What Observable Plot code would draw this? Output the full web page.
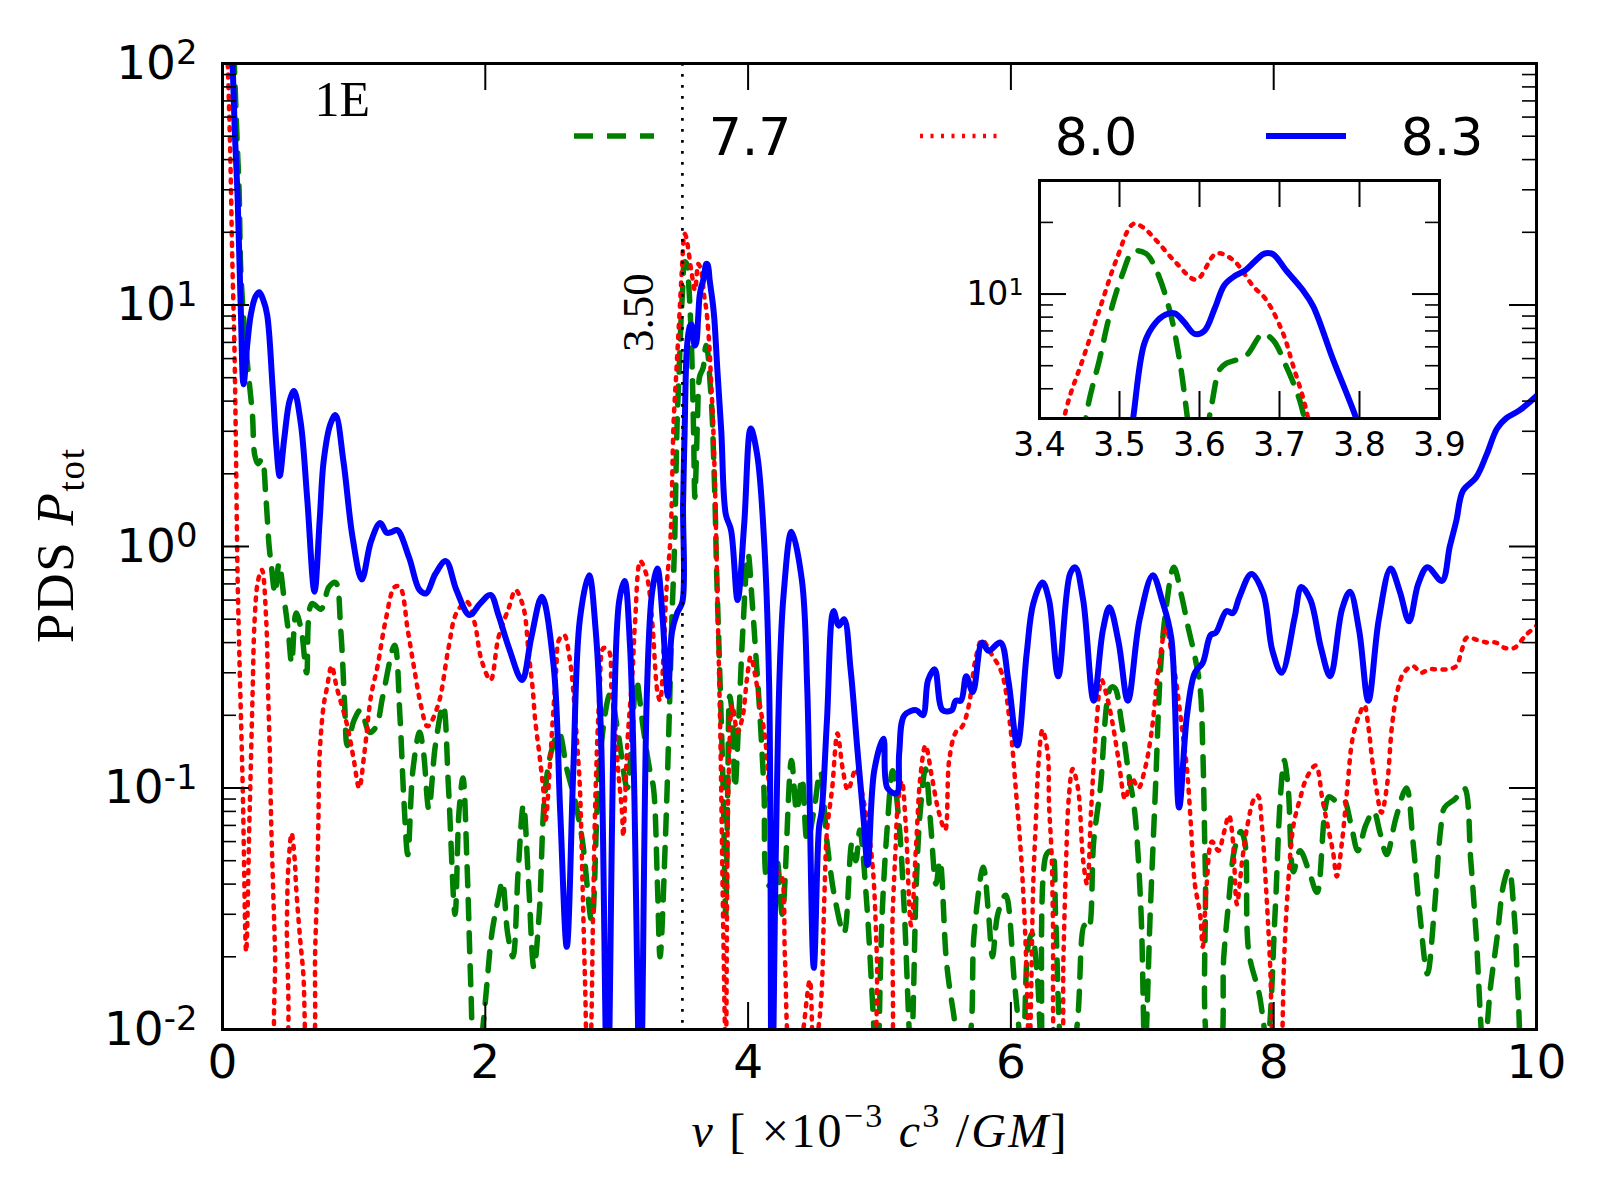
<!DOCTYPE html>
<html><head><meta charset="utf-8">
<script src="https://cdn.jsdelivr.net/npm/d3@7"></script>
<script src="https://cdn.jsdelivr.net/npm/@observablehq/plot@0.6"></script>
<style>
html,body{margin:0;padding:0;background:#fff;overflow:hidden;}
#wrap{position:relative;width:1600px;height:1200px;}
#wrap svg{max-width:none;}
.inset{position:absolute;left:947px;top:170px;}
</style></head><body><div id="wrap"></div>
<script>
// ---------- data ----------
const seriesLabels = ["7.7", "8.0", "8.3"];

const greenNu = [0.08,0.09,0.11,0.127,0.139,0.17,0.20,0.228,0.245,0.27,0.30,0.33,0.355,0.37,0.40,0.43,0.47,0.50,0.526,0.56,0.60,0.64,0.68,0.75,0.81,0.86,0.90,0.93,0.95,1.00,1.05,1.12,1.17,1.22,1.31,1.35,1.38,1.41,1.45,1.50,1.53,1.57,1.62,1.68,1.72,1.77,1.80,1.83,1.86,1.89,1.92,1.96,2.00,2.05,2.10,2.13,2.17,2.21,2.25,2.29,2.33,2.37,2.41,2.45,2.50,2.56,2.62,2.68,2.74,2.81,2.85,2.88,2.95,3.01,3.08,3.12,3.15,3.20,3.25,3.28,3.31,3.33,3.37,3.40,3.42,3.44,3.46,3.475,3.4875,3.504,3.517,3.533,3.546,3.5625,3.575,3.585,3.595,3.605,3.615,3.625,3.633,3.658,3.679,3.692,3.708,3.725,3.735,3.75,3.76,3.78,3.81,3.83,3.845,3.86,3.88,3.90,3.93,3.96,4.00,4.03,4.06,4.09,4.12,4.15,4.18,4.22,4.26,4.33,4.37,4.41,4.45,4.50,4.55,4.60,4.66,4.73,4.79,4.82,4.85,4.90,4.95,4.98,5.02,5.06,5.10,5.15,5.19,5.24,5.28,5.31,5.35,5.39,5.43,5.46,5.51,5.56,5.62,5.68,5.72,5.79,5.83,5.86,5.90,5.96,6.03,6.09,6.13,6.16,6.20,6.23,6.27,6.31,6.34,6.37,6.41,6.50,6.56,6.59,6.63,6.68,6.76,6.79,6.84,6.90,6.94,6.99,7.02,7.06,7.10,7.14,7.18,7.24,7.30,7.35,7.40,7.44,7.46,7.48,7.52,7.58,7.62,7.66,7.70,7.75,7.78,7.81,7.89,7.95,8.01,8.05,8.08,8.11,8.15,8.20,8.27,8.33,8.42,8.48,8.53,8.59,8.64,8.70,8.76,8.81,8.86,8.93,9.01,9.06,9.11,9.17,9.22,9.27,9.30,9.38,9.45,9.50,9.54,9.60,9.65,9.70,9.75,9.79,9.83,9.86,9.90,9.95,10.0];
const greenPds = [150,100,50,29,14,7.5,5,3.5,2.4,2.2,2.3,1.6,1.0,0.85,0.64,0.85,0.6,0.45,0.33,0.53,0.45,0.30,0.58,0.55,0.68,0.71,0.45,0.22,0.15,0.19,0.21,0.17,0.18,0.24,0.39,0.2,0.09,0.053,0.12,0.17,0.14,0.082,0.15,0.22,0.1,0.03,0.08,0.11,0.05,0.015,0.006,0.008,0.013,0.025,0.035,0.041,0.025,0.02,0.045,0.085,0.04,0.018,0.03,0.09,0.14,0.17,0.12,0.09,0.06,0.028,0.08,0.148,0.245,0.17,0.10,0.18,0.28,0.18,0.12,0.1,0.04,0.02,0.06,0.2,0.5,1.0,3.3,5.3,8.1,12.2,15.1,14.8,12.6,8.6,5.3,3.0,1.6,2.2,3.4,4.8,5.1,5.5,6.8,6.4,5.0,3.6,2.6,1.4,0.8,0.36,0.10,0.03,0.1,0.24,0.2,0.1,0.2,0.45,0.93,0.6,0.35,0.2,0.1,0.04,0.039,0.05,0.03,0.13,0.08,0.11,0.06,0.08,0.117,0.06,0.035,0.025,0.059,0.05,0.067,0.035,0.012,0.006,0.03,0.07,0.118,0.07,0.03,0.008,0.04,0.08,0.12,0.07,0.04,0.05,0.019,0.012,0.008,0.009,0.025,0.047,0.03,0.02,0.03,0.036,0.015,0.008,0.022,0.025,0.017,0.009,0.053,0.055,0.03,0.01,0.006,0.01,0.027,0.026,0.06,0.099,0.26,0.26,0.19,0.111,0.082,0.031,0.008,0.03,0.099,0.32,0.55,0.82,0.62,0.46,0.35,0.26,0.147,0.045,0.008,0.008,0.02,0.035,0.055,0.066,0.06,0.021,0.014,0.009,0.03,0.09,0.13,0.1,0.045,0.055,0.045,0.037,0.092,0.088,0.09,0.07,0.055,0.07,0.08,0.065,0.053,0.075,0.1,0.06,0.031,0.017,0.03,0.067,0.083,0.09,0.1,0.05,0.025,0.008,0.015,0.024,0.04,0.046,0.03,0.014,0.006,0.005,0.005];

const redNu = [0.02,0.04,0.06,0.075,0.09,0.10,0.114,0.128,0.154,0.18,0.205,0.218,0.23,0.244,0.27,0.30,0.333,0.346,0.36,0.37,0.385,0.40,0.42,0.47,0.49,0.50,0.526,0.55,0.56,0.59,0.615,0.65,0.69,0.705,0.72,0.73,0.74,0.77,0.795,0.83,0.87,0.94,0.97,1.00,1.04,1.08,1.13,1.18,1.24,1.31,1.35,1.41,1.46,1.51,1.56,1.64,1.72,1.78,1.86,1.92,1.97,2.04,2.10,2.18,2.23,2.29,2.33,2.36,2.38,2.41,2.44,2.46,2.49,2.51,2.54,2.56,2.60,2.64,2.67,2.70,2.72,2.74,2.76,2.78,2.80,2.82,2.84,2.87,2.90,2.94,2.96,2.99,3.01,3.04,3.05,3.08,3.12,3.14,3.18,3.23,3.27,3.31,3.33,3.36,3.38,3.41,3.433,3.454,3.475,3.496,3.517,3.529,3.546,3.571,3.596,3.621,3.642,3.667,3.683,3.704,3.717,3.733,3.75,3.77,3.79,3.81,3.83,3.85,3.88,3.92,3.96,3.99,4.02,4.05,4.09,4.13,4.18,4.22,4.25,4.28,4.31,4.36,4.42,4.47,4.50,4.55,4.58,4.60,4.64,4.68,4.72,4.76,4.82,4.86,4.91,4.95,4.98,5.01,5.06,5.10,5.12,5.14,5.17,5.20,5.24,5.28,5.31,5.35,5.40,5.45,5.50,5.53,5.58,5.63,5.68,5.73,5.78,5.85,5.93,5.99,6.04,6.08,6.11,6.14,6.17,6.19,6.21,6.24,6.28,6.29,6.31,6.32,6.34,6.38,6.40,6.42,6.44,6.47,6.51,6.55,6.58,6.61,6.65,6.69,6.73,6.77,6.82,6.87,6.92,6.97,7.02,7.07,7.12,7.18,7.22,7.26,7.30,7.34,7.37,7.40,7.44,7.46,7.49,7.53,7.58,7.62,7.66,7.69,7.72,7.76,7.80,7.85,7.88,7.91,7.94,7.97,8.00,8.04,8.06,8.08,8.11,8.15,8.20,8.25,8.32,8.37,8.41,8.45,8.48,8.52,8.56,8.60,8.65,8.69,8.72,8.75,8.78,8.82,8.86,8.90,8.94,8.99,9.06,9.12,9.18,9.24,9.32,9.39,9.43,9.47,9.55,9.63,9.69,9.76,9.83,9.92,10.0];
const redPds = [200,100,40,15,7,3.2,0.8,0.36,0.1,0.021,0.074,0.14,0.26,0.49,0.72,0.80,0.49,0.26,0.14,0.074,0.039,0.021,0.008,0.008,0.028,0.046,0.065,0.05,0.039,0.024,0.017,0.007,0.008,0.021,0.039,0.074,0.14,0.22,0.26,0.32,0.26,0.19,0.16,0.13,0.10,0.14,0.24,0.32,0.49,0.68,0.68,0.45,0.31,0.22,0.18,0.22,0.38,0.53,0.59,0.48,0.34,0.28,0.42,0.56,0.66,0.56,0.36,0.26,0.19,0.14,0.1,0.074,0.12,0.18,0.31,0.41,0.43,0.35,0.25,0.15,0.1,0.04,0.015,0.006,0.008,0.03,0.1,0.25,0.38,0.37,0.26,0.18,0.12,0.08,0.063,0.15,0.3,0.49,0.87,0.75,0.49,0.25,0.23,0.4,0.68,1.1,3.25,5.3,8.6,13.9,19.7,19.1,16.8,13.5,11.5,14.8,13.9,10.8,9.5,6.9,5.0,3.3,1.6,0.5,0.15,0.028,0.008,0.1,0.22,0.17,0.2,0.28,0.35,0.3,0.22,0.16,0.07,0.045,0.044,0.02,0.008,0.006,0.01,0.016,0.008,0.012,0.035,0.066,0.1,0.168,0.12,0.098,0.12,0.1,0.07,0.046,0.02,0.006,0.006,0.03,0.053,0.086,0.107,0.07,0.027,0.06,0.11,0.15,0.11,0.08,0.067,0.13,0.17,0.18,0.22,0.34,0.41,0.36,0.3,0.19,0.095,0.05,0.024,0.008,0.04,0.073,0.126,0.174,0.14,0.086,0.053,0.028,0.007,0.006,0.02,0.05,0.09,0.12,0.1,0.05,0.04,0.08,0.18,0.28,0.24,0.19,0.13,0.09,0.11,0.1,0.12,0.17,0.3,0.46,0.37,0.27,0.18,0.12,0.07,0.04,0.03,0.022,0.04,0.06,0.055,0.065,0.077,0.06,0.033,0.05,0.07,0.09,0.093,0.07,0.04,0.02,0.008,0.006,0.008,0.02,0.04,0.07,0.09,0.11,0.124,0.09,0.07,0.055,0.043,0.06,0.1,0.16,0.2,0.22,0.18,0.13,0.1,0.079,0.1,0.18,0.25,0.3,0.32,0.3,0.31,0.31,0.31,0.32,0.37,0.42,0.41,0.40,0.40,0.38,0.38,0.43,0.47];

const blueNu = [0.06,0.076,0.095,0.114,0.139,0.16,0.19,0.215,0.25,0.28,0.31,0.34,0.38,0.41,0.435,0.47,0.51,0.544,0.595,0.645,0.70,0.74,0.77,0.82,0.86,0.92,0.99,1.06,1.13,1.20,1.25,1.29,1.33,1.42,1.50,1.55,1.62,1.70,1.78,1.88,1.96,2.04,2.10,2.18,2.28,2.35,2.43,2.52,2.57,2.62,2.67,2.72,2.79,2.84,2.88,2.93,2.98,3.02,3.06,3.10,3.13,3.18,3.23,3.27,3.31,3.35,3.39,3.42,3.46,3.50,3.505,3.517,3.531,3.544,3.558,3.569,3.581,3.594,3.606,3.619,3.631,3.644,3.656,3.669,3.681,3.692,3.708,3.729,3.742,3.767,3.796,3.83,3.87,3.92,3.97,4.02,4.07,4.12,4.16,4.18,4.21,4.24,4.27,4.33,4.41,4.45,4.50,4.54,4.56,4.60,4.65,4.69,4.73,4.78,4.83,4.88,4.91,4.96,5.03,5.06,5.13,5.15,5.19,5.28,5.33,5.37,5.42,5.48,5.55,5.58,5.62,5.66,5.71,5.78,5.83,5.92,5.98,6.05,6.12,6.17,6.24,6.29,6.36,6.45,6.49,6.55,6.63,6.70,6.75,6.82,6.89,6.98,7.08,7.15,7.22,7.28,7.34,7.40,7.46,7.52,7.56,7.64,7.69,7.74,7.83,7.92,7.99,8.06,8.16,8.21,8.28,8.36,8.43,8.52,8.58,8.65,8.72,8.80,8.89,8.96,9.03,9.10,9.17,9.28,9.34,9.39,9.44,9.54,9.62,9.70,9.77,9.87,10.0];
const bluePds = [140,100,50,29,9.7,4.7,7.0,9.1,10.8,11.3,10.5,9.1,4.7,2.6,1.96,2.8,4.0,4.4,3.26,1.57,0.65,1.3,2.26,3.2,3.5,2.26,1.09,0.73,1.05,1.25,1.14,1.15,1.17,0.9,0.66,0.64,0.77,0.87,0.66,0.52,0.58,0.63,0.52,0.38,0.28,0.42,0.62,0.32,0.08,0.022,0.12,0.5,0.76,0.45,0.17,0.005,0.2,0.6,0.72,0.4,0.12,0.005,0.25,0.65,0.81,0.5,0.24,0.44,0.53,0.59,1.5,3.0,6.2,7.5,8.2,8.3,7.6,6.8,7.0,8.7,10.9,11.9,12.5,13.7,14.8,14.7,12.6,10.4,8.9,5.3,3.0,1.36,1.17,0.60,1.23,3.08,2.38,1.1,0.27,0.004,0.05,0.3,0.63,1.15,0.72,0.26,0.018,0.069,0.08,0.19,0.54,0.47,0.5,0.31,0.148,0.073,0.048,0.118,0.16,0.1,0.095,0.14,0.2,0.21,0.2,0.28,0.31,0.21,0.21,0.23,0.23,0.29,0.25,0.40,0.37,0.40,0.28,0.15,0.36,0.58,0.71,0.6,0.29,0.77,0.82,0.6,0.23,0.45,0.56,0.4,0.23,0.5,0.76,0.6,0.42,0.083,0.2,0.30,0.33,0.43,0.44,0.54,0.53,0.62,0.77,0.64,0.37,0.30,0.51,0.68,0.6,0.38,0.29,0.55,0.65,0.45,0.23,0.5,0.81,0.65,0.49,0.7,0.82,0.72,1.0,1.28,1.7,1.93,2.4,3.08,3.4,3.66,4.2];

const xTicks = [0, 2, 4, 6, 8, 10];
const yTicks = [0.01, 0.1, 1, 10, 100];
const insetXTicks = [3.4, 3.5, 3.6, 3.7, 3.8, 3.9];
const insetYTicks = [10];
const markerNu = 3.5;

// ---------- helpers ----------
const rows = (nu, p) => nu.map((v, i) => ({nu: v, p: p[i]}));
const green = rows(greenNu, greenPds);
const red = rows(redNu, redPds);
const blue = rows(blueNu, bluePds);

const fmtPow = d => "10^" + Math.round(Math.log10(d));
const minorLog = (lo, hi) => {
  const out = [];
  for (let e = Math.floor(Math.log10(lo)); e <= Math.ceil(Math.log10(hi)); e++)
    for (let k = 2; k <= 9; k++) { const v = k * Math.pow(10, e); if (v > lo * 1.0001 && v < hi * 0.9999) out.push(v); }
  return out;
};

const styles = [
  {stroke: "#008000", strokeWidth: 5.5, strokeDasharray: "19,14"},
  {stroke: "#ff0000", strokeWidth: 4.5, strokeDasharray: "3,7.5"},
  {stroke: "#0000ff", strokeWidth: 6}
];
const series = [green, red, blue];
const lineMarks = () => series.map((d, i) => Plot.line(d, {x: "nu", y: "p", curve: "catmull-rom", clip: true, strokeLinejoin: "round", ...styles[i]}));

const tickMarks = (fw, fh, yMaj, yMin, xMaj, big, small) => [
  Plot.tickY(yMaj, {y: d => d, insetRight: fw - big, strokeWidth: 2}),
  Plot.tickY(yMaj, {y: d => d, insetLeft: fw - big, strokeWidth: 2}),
  Plot.tickY(yMin, {y: d => d, insetRight: fw - small, strokeWidth: 1.6}),
  Plot.tickY(yMin, {y: d => d, insetLeft: fw - small, strokeWidth: 1.6}),
  Plot.tickX(xMaj, {x: d => d, insetTop: fh - big, strokeWidth: 2}),
  Plot.tickX(xMaj, {x: d => d, insetBottom: fh - big, strokeWidth: 2})
];

// turn "10^k" tick labels into 10 with a raised exponent
function superscriptLabels(node) {
  d3.select(node).selectAll("text").each(function () {
    const m = /^10\^(-?\d+)$/.exec(this.textContent);
    if (!m) return;
    this.textContent = "10";
    d3.select(this).append("tspan").attr("dy", "-0.42em").style("font-size", "0.72em").text(m[1]);
  });
}

// ---------- main chart ----------
const W = 1600, H = 1200, mL = 222, mR = 64, mT = 63, mB = 171;
const fw = W - mL - mR, fh = H - mT - mB;

const main = Plot.plot({
  width: W, height: H,
  marginLeft: mL, marginRight: mR, marginTop: mT, marginBottom: mB,
  x: {domain: [0, 10]},
  y: {type: "log", domain: [0.01, 100]},
  style: {fontFamily: "DejaVu Sans", background: "white", color: "black"},
  marks: [
    ...lineMarks(),
    Plot.ruleX([markerNu], {stroke: "black", strokeWidth: 2.7, strokeDasharray: "2.7,8.3"}),
    Plot.text([markerNu.toFixed(2)], {x: [markerNu], frameAnchor: "top", dy: 249, dx: -44, rotate: -90,
      fontFamily: "Liberation Serif", fontSize: 45, textAnchor: "middle", lineAnchor: "middle", fill: "black"}),
    Plot.text(["1E"], {frameAnchor: "top-left", dx: 92, dy: 52, textAnchor: "start", lineAnchor: "bottom",
      fontFamily: "Liberation Serif", fontSize: 50, fill: "black"}),
    ...tickMarks(fw, fh, yTicks, minorLog(0.01, 100), xTicks, 27, 14),
    Plot.frame({strokeWidth: 3}),
    Plot.axisX({ticks: xTicks, tickSize: 0, tickPadding: 15, fontSize: 47, label: null, tickFormat: d => String(d)}),
    Plot.axisY({ticks: yTicks, tickSize: 0, tickPadding: 25, fontSize: 47, label: null, tickFormat: fmtPow})
  ]
});
superscriptLabels(main);

const svg = d3.select(main);
// y-axis label
const yl = svg.append("text").attr("transform", "translate(73,546) rotate(-90)")
  .attr("text-anchor", "middle").attr("textLength", 194).attr("lengthAdjust", "spacing")
  .style("font-family", "Liberation Serif, DejaVu Serif, serif")
  .style("font-size", "53px").attr("fill", "black");
yl.append("tspan").text("PDS ");
yl.append("tspan").style("font-style", "italic").text("P");
yl.append("tspan").attr("dy", 11).style("font-size", "37px").text("tot");

// x-axis label
const xl = svg.append("text").attr("x", (mL + W - mR) / 2).attr("y", 1147)
  .attr("text-anchor", "middle").attr("textLength", 375).attr("lengthAdjust", "spacing")
  .style("font-family", "Liberation Serif, DejaVu Serif, serif")
  .style("font-size", "48px").attr("fill", "black");
xl.append("tspan").style("font-style", "italic").text("ν");
xl.append("tspan").text(" [ ×10");
xl.append("tspan").attr("dy", -20).style("font-size", "34px").text("−3");
xl.append("tspan").attr("dy", 20).text(" ");
xl.append("tspan").style("font-style", "italic").text("c");
xl.append("tspan").attr("dy", -20).style("font-size", "34px").text("3");
xl.append("tspan").attr("dy", 20).text(" /");
xl.append("tspan").style("font-style", "italic").text("GM");
xl.append("tspan").text("]");

// legend
const leg = svg.append("g");
const legY = 136, legX0 = 574, legStep = 346, legLen = 80, legGap = 96;
seriesLabels.forEach((lab, i) => {
  const x0 = legX0 + i * legStep;
  const st = styles[i];
  leg.append("line").attr("x1", x0).attr("x2", x0 + legLen).attr("y1", legY).attr("y2", legY)
    .attr("stroke", st.stroke).attr("stroke-width", st.strokeWidth)
    .attr("stroke-dasharray", st.strokeDasharray || null);
  leg.append("text").attr("x", x0 + legLen + legGap).attr("y", legY + 19)
    .style("font-family", "DejaVu Sans").style("font-size", "52px").attr("fill", "black").text(lab);
});

// ---------- inset ----------
const iw = 532, ih = 300, imL = 92, imR = 40, imT = 10, imB = 52;
const inset = Plot.plot({
  width: iw, height: ih, marginLeft: imL, marginRight: imR, marginTop: imT, marginBottom: imB,
  x: {domain: [3.4, 3.9]},
  y: {type: "log", domain: [3, 30]},
  style: {fontFamily: "DejaVu Sans", background: "transparent", color: "black", overflow: "visible"},
  marks: [
    Plot.frame({fill: "white", stroke: null}),
    ...lineMarks(),
    ...tickMarks(iw - imL - imR, ih - imT - imB, insetYTicks, minorLog(3, 30), insetXTicks, 27, 14),
    Plot.frame({strokeWidth: 3}),
    Plot.axisX({ticks: insetXTicks, tickSize: 0, tickPadding: 14, fontSize: 33, label: null, tickFormat: d => d.toFixed(1)}),
    Plot.axisY({ticks: insetYTicks, tickSize: 0, tickPadding: 16, fontSize: 33, label: null, tickFormat: fmtPow})
  ]
});
superscriptLabels(inset);
inset.classList.add("inset");

const wrap = document.getElementById("wrap");
wrap.appendChild(main);
wrap.appendChild(inset);
</script>
</body></html>
